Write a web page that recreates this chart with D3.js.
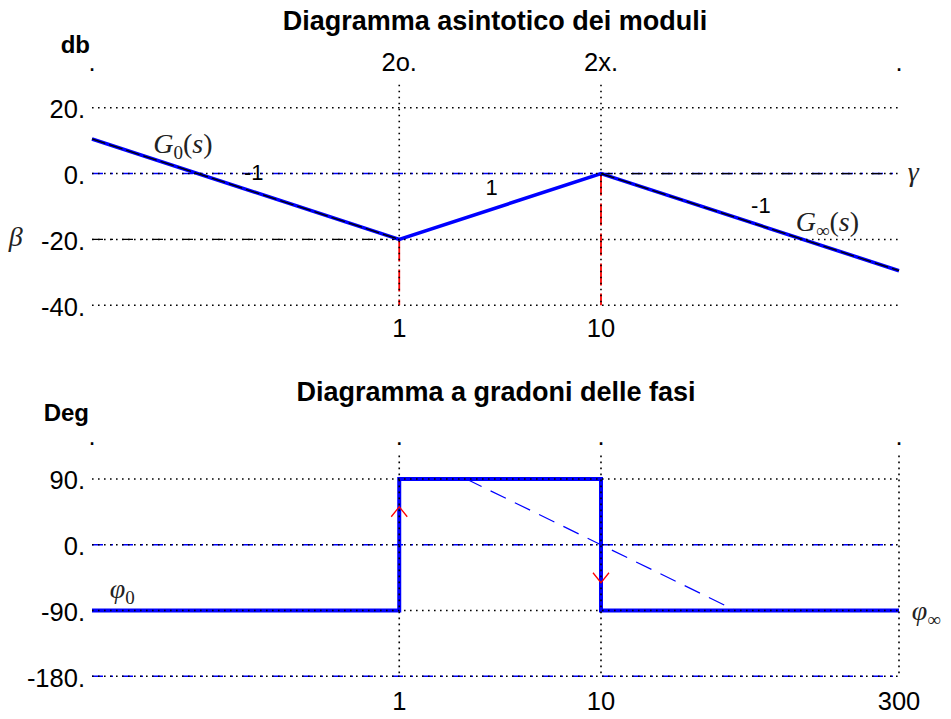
<!DOCTYPE html>
<html>
<head>
<meta charset="utf-8">
<script src="https://cdn.jsdelivr.net/npm/d3@7"></script>
<style>
body{margin:0;background:#fff;}
svg{display:block;}
.tick{font-family:"Liberation Sans",Arial,sans-serif;font-size:25.5px;fill:#000;}
.ttl{font-family:"Liberation Sans",Arial,sans-serif;font-size:27px;font-weight:bold;fill:#000;}
.unit{font-family:"Liberation Sans",Arial,sans-serif;font-size:24px;font-weight:bold;fill:#000;}
.math{font-family:"Liberation Serif","DejaVu Serif",serif;font-size:28px;fill:#222;}
.ann{font-family:"Liberation Sans",Arial,sans-serif;font-size:22px;fill:#000;}
</style>
</head>
<body>
<svg id="c" width="951" height="719"></svg>
<script>
// ---------- data ----------
const xDomain = [0.03, 300];
const magDomain = [-40, 20];
const phaseDomain = [-180, 90];
const magGridTop = 27;      // top end of vertical grid lines (dB)
const phaseGridTop = 122;   // top end of vertical grid lines (deg)

const magTicks = [20, 0, -20, -40];
const magTickLabels = ["20.", "0.", "-20.", "-40."];
const phaseTicks = [90, 0, -90, -180];
const phaseTickLabels = ["90.", "0.", "-90.", "-180."];

const magTopTicks = [0.03, 1, 10, 300];
const magTopLabels = [".", "2o.", "2x.", "."];
const magBottomTicks = [1, 10];
const magBottomLabels = ["1", "10"];
const phaseTopTicks = [0.03, 1, 10, 300];
const phaseTopLabels = [".", ".", ".", "."];
const phaseBottomTicks = [1, 10, 300];
const phaseBottomLabels = ["1", "10", "300"];

const magX = [0.03, 1, 10, 300];
const magY = [10.5, -20, 0, -29.5];
const asymLowX = [0.03, 1];
const asymLowY = [10.5, -20];
const asymHighX = [10, 300];
const asymHighY = [0, -29.5];

const phaseX = [0.03, 1, 1, 10, 10, 300];
const phaseY = [-90, -90, 90, 90, -90, -90];
const slopeX = [2.15, 46.5];
const slopeY = [90, -90];
const arrowX = [1, 10];
const arrowY = [52, -52];
const arrowDir = [1, -1];

const slopeLabels = ["-1", "1", "-1"];
const slopeLabelX = [0.19, 2.87, 62];
const slopeLabelY = [-1.9, -6.5, -11.9];

// ---------- scales ----------
const svg = d3.select("#c");
const x = d3.scaleLog().domain(xDomain).range([92, 899]);
const yM = d3.scaleLinear().domain(magDomain).range([305.3, 107.7]);
const yP = d3.scaleLinear().domain(phaseDomain).range([676.3, 479]);

const line = (ys) => d3.line().x(d => x(d[0])).y(d => ys(d[1]));
const zip = (a, b) => a.map((v, i) => [v, b[i]]);

const DOT = "1.6,4.4";
const DASHDOT = "11,7.5,2.5,9";

function hline(g, ys, v, x0, x1, color, dash, w) {
  g.append("line").attr("x1", x(x0)).attr("x2", x(x1))
    .attr("y1", ys(v)).attr("y2", ys(v))
    .attr("stroke", color).attr("stroke-width", w).attr("stroke-dasharray", dash);
}
function vline(g, ys, xv, v0, v1, color, dash, w) {
  g.append("line").attr("x1", x(xv)).attr("x2", x(xv))
    .attr("y1", ys(v0)).attr("y2", ys(v1))
    .attr("stroke", color).attr("stroke-width", w).attr("stroke-dasharray", dash);
}

function mathLabel(g, px, py, parts) {
  const t = g.append("text").attr("class", "math").attr("x", px).attr("y", py);
  let shifted = false;
  parts.forEach(p => {
    const s = t.append("tspan").text(p.t);
    if (p.i) s.attr("font-style", "italic");
    if (p.sub) { s.attr("font-size", "19px").attr("dy", 6); shifted = true; }
    else if (shifted) { s.attr("dy", -6); shifted = false; }
  });
}

// ---------- TOP PANEL ----------
const gT = svg.append("g");
gT.append("text").attr("class", "ttl").attr("x", 495).attr("y", 30)
  .attr("text-anchor", "middle").text("Diagramma asintotico dei moduli");
gT.append("text").attr("class", "unit").attr("x", 90).attr("y", 53)
  .attr("text-anchor", "end").text("db");

hline(gT, yM, 0, xDomain[0], xDomain[1], "#0000ff", DASHDOT, 1.5);
hline(gT, yM, -20, xDomain[0], 1, "#000", DASHDOT, 1.3);
hline(gT, yM, 0, 10, xDomain[1], "#000", DASHDOT, 1.3);
vline(gT, yM, 1, -20, -40, "#ff0000", "22,8", 1.8);
vline(gT, yM, 10, 0, -40, "#ff0000", "22,8", 1.8);

gT.append("path").datum(zip(magX, magY)).attr("d", line(yM))
  .attr("fill", "none").attr("stroke", "#0000ff").attr("stroke-width", 3.6)
  .attr("stroke-linejoin", "miter");
[zip(asymLowX, asymLowY), zip(asymHighX, asymHighY)].forEach(pts => {
  gT.append("path").datum(pts).attr("d", line(yM))
    .attr("fill", "none").attr("stroke", "#000").attr("stroke-width", 1.3)
    .attr("stroke-dasharray", "14,4");
});

magTicks.forEach(v => hline(gT, yM, v, xDomain[0], xDomain[1], "#000", DOT, 1.6));
magBottomTicks.forEach(v => vline(gT, yM, v, magGridTop, magDomain[0], "#000", DOT, 1.6));

magTicks.forEach((v, i) => gT.append("text").attr("class", "tick")
  .attr("x", 85).attr("y", yM(v)).attr("dy", "0.4em").attr("text-anchor", "end")
  .text(magTickLabels[i]));
magTopTicks.forEach((v, i) => gT.append("text").attr("class", "tick")
  .attr("x", x(v)).attr("y", 71).attr("text-anchor", "middle").text(magTopLabels[i]));
magBottomTicks.forEach((v, i) => gT.append("text").attr("class", "tick")
  .attr("x", x(v)).attr("y", 337).attr("text-anchor", "middle").text(magBottomLabels[i]));

slopeLabels.forEach((t, i) => gT.append("text").attr("class", "ann")
  .attr("x", x(slopeLabelX[i])).attr("y", yM(slopeLabelY[i]))
  .attr("text-anchor", "middle").text(t));

mathLabel(gT, x(0.0603), yM(6.3), [{t:"G", i:1}, {t:"0", sub:1}, {t:"("}, {t:"s", i:1}, {t:")"}]);
mathLabel(gT, x(92.3), yM(-17.4), [{t:"G", i:1}, {t:"∞", sub:1}, {t:"("}, {t:"s", i:1}, {t:")"}]);
mathLabel(gT, x(331.6), yM(-2.2), [{t:"γ", i:1}]);
mathLabel(gT, x(0.0116), yM(-22), [{t:"β", i:1}]);

// ---------- BOTTOM PANEL ----------
const gB = svg.append("g");
gB.append("text").attr("class", "ttl").attr("x", 496).attr("y", 401)
  .attr("text-anchor", "middle").text("Diagramma a gradoni delle fasi");
gB.append("text").attr("class", "unit").attr("x", 89).attr("y", 421)
  .attr("text-anchor", "end").text("Deg");

hline(gB, yP, 0, xDomain[0], xDomain[1], "#0000ff", DASHDOT, 1.5);
hline(gB, yP, -180, xDomain[0], xDomain[1], "#0000ff", DASHDOT, 1.5);

gB.append("path").datum(zip(slopeX, slopeY)).attr("d", line(yP))
  .attr("fill", "none").attr("stroke", "#0000ff").attr("stroke-width", 1.2)
  .attr("stroke-dasharray", "17,10");

gB.append("path").datum(zip(phaseX, phaseY)).attr("d", line(yP))
  .attr("fill", "none").attr("stroke", "#0000ff").attr("stroke-width", 4)
  .attr("stroke-linejoin", "miter");

phaseTicks.forEach(v => hline(gB, yP, v, xDomain[0], xDomain[1], "#000", DOT, 1.6));
phaseBottomTicks.forEach(v => vline(gB, yP, v, phaseGridTop, phaseDomain[0], "#000", DOT, 1.6));

arrowX.forEach((xv, i) => {
  const cx = x(xv), cy = yP(arrowY[i]), d = arrowDir[i];
  gB.append("path")
    .attr("d", `M${cx - 8},${cy + 10 * d} L${cx},${cy} L${cx + 8},${cy + 10 * d}`)
    .attr("fill", "none").attr("stroke", "#ff0000").attr("stroke-width", 1.3);
});

phaseTicks.forEach((v, i) => gB.append("text").attr("class", "tick")
  .attr("x", 85).attr("y", yP(v)).attr("dy", "0.4em").attr("text-anchor", "end")
  .text(phaseTickLabels[i]));
phaseTopTicks.forEach((v, i) => gB.append("text").attr("class", "tick")
  .attr("x", x(v)).attr("y", 445).attr("text-anchor", "middle").text(phaseTopLabels[i]));
phaseBottomTicks.forEach((v, i) => gB.append("text").attr("class", "tick")
  .attr("x", x(v)).attr("y", 710).attr("text-anchor", "middle").text(phaseBottomLabels[i]));

mathLabel(gB, x(0.0367), yP(-73), [{t:"φ", i:1}, {t:"0", sub:1}]);
mathLabel(gB, x(347), yP(-103), [{t:"φ", i:1}, {t:"∞", sub:1}]);
</script>
</body>
</html>
